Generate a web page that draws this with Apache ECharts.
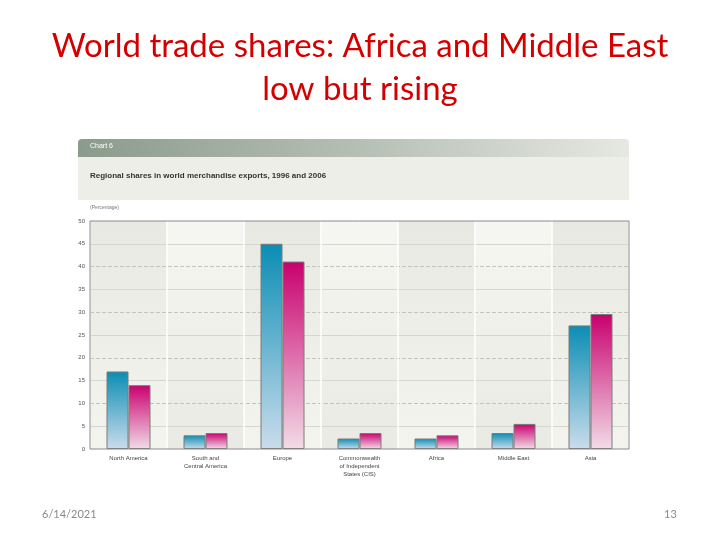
<!DOCTYPE html>
<html><head><meta charset="utf-8">
<script src="https://cdn.jsdelivr.net/npm/echarts@6/dist/echarts.min.js"></script>
<style>html,body{margin:0;padding:0;background:#fff}#c{width:720px;height:540px}</style>
</head><body><div id="c"></div>
<script>
const categories = ['North America', 'South and\nCentral America', 'Europe', 'Commonwealth\nof Independent\nStates (CIS)', 'Africa', 'Middle East', 'Asia'];
const exports1996 = [17.0, 3.0, 45.0, 2.3, 2.3, 3.5, 27.1];
const exports2006 = [14.0, 3.5, 41.1, 3.5, 3.0, 5.5, 29.6];
const yTicks = [0, 5, 10, 15, 20, 25, 30, 35, 40, 45, 50];

const chart = echarts.init(document.getElementById('c'), null, {renderer: 'canvas'});
const grad = (top, bottom) => new echarts.graphic.LinearGradient(0, 0, 0, 1, [{offset: 0, color: top}, {offset: 1, color: bottom}]);

chart.setOption({
  animation: false,
  backgroundColor: '#ffffff',
  textStyle: {fontFamily: 'Liberation Sans'},
  graphic: [
    {type: 'text', x: 360, y: 25, style: {text: 'World trade shares: Africa and Middle East\nlow but rising', fill: '#d40000', font: '33px Lato', lineHeight: 43, align: 'center'}},
    {type: 'rect', shape: {x: 78, y: 139, width: 551, height: 18, r: [4, 4, 0, 0]}, style: {fill: new echarts.graphic.LinearGradient(0, 0, 1, 0, [{offset: 0, color: '#8b9b8b'}, {offset: 0.5, color: '#b5beb2'}, {offset: 1, color: '#e6e8e2'}])}},
    {type: 'text', x: 90, y: 143, style: {text: 'Chart 6', fill: '#ffffff', font: '7px Liberation Sans'}},
    {type: 'rect', shape: {x: 78, y: 157, width: 551, height: 43}, style: {fill: '#eeeee9'}},
    {type: 'text', x: 90, y: 172, style: {text: 'Regional shares in world merchandise exports, 1996 and 2006', fill: '#333333', font: 'bold 8px Liberation Sans'}},
    {type: 'text', x: 90, y: 205, style: {text: '(Percentage)', fill: '#777777', font: '5px Liberation Sans'}},
    {type: 'text', x: 42, y: 509, style: {text: '6/14/2021', fill: '#8a8a8a', font: '11px Lato'}},
    {type: 'text', x: 664, y: 509, style: {text: '13', fill: '#8a8a8a', font: '11px Lato'}}
  ],
  grid: {left: 90, right: 91, top: 221, bottom: 91, show: true, borderColor: '#8a8a8a', borderWidth: 1, backgroundColor: 'transparent', z: 3},
  xAxis: {
    type: 'category', data: categories,
    axisLine: {show: false}, axisTick: {show: false},
    splitLine: {show: true, lineStyle: {color: '#ffffff', width: 1.5}},
    axisLabel: {fontSize: 6, color: '#444444', lineHeight: 8, margin: 5, interval: 0}
  },
  yAxis: [
    {type: 'value', min: yTicks[0], max: yTicks[yTicks.length - 1], interval: 5,
     axisLine: {show: false}, axisTick: {show: false},
     axisLabel: {fontSize: 6, color: '#555555', margin: 5},
     splitLine: {show: true, lineStyle: {color: ['transparent', '#d6d6d0'], width: 1}}},
    {type: 'value', min: yTicks[0], max: yTicks[yTicks.length - 1], interval: 10, position: 'left',
     axisLine: {show: false}, axisTick: {show: false}, axisLabel: {show: false},
     splitLine: {show: true, lineStyle: {color: ['transparent', '#c4c4bd', '#c4c4bd', '#c4c4bd', '#c4c4bd', 'transparent'], type: [4, 2], width: 1}}}
  ],
  series: [
    {type: 'custom', z: -1, silent: true, data: categories.map((c, i) => [i]),
     encode: {x: 0},
     renderItem: function (params, api) {
       const idx = api.value(0);
       const bw = api.size([1, 0])[0];
       const p0 = api.coord([idx, yTicks[0]]);
       const p1 = api.coord([idx, yTicks[yTicks.length - 1]]);
       const dark = idx % 2 === 0;
       return {type: 'rect',
         shape: {x: p0[0] - bw / 2, y: p1[1], width: bw, height: p0[1] - p1[1]},
         style: {fill: dark ? grad('#e9e9e3', '#f4f4ef') : grad('#f6f6f2', '#eaeae4')}};
     }},
    {name: '1996', type: 'bar', data: exports1996, barWidth: 22, barGap: '0%',
     itemStyle: {color: grad('#0a8db4', '#cbdcec'), borderColor: '#7a7a7a', borderWidth: 1}},
    {name: '2006', type: 'bar', data: exports2006, barWidth: 22, barGap: '0%',
     itemStyle: {color: grad('#c8006e', '#f2dce7'), borderColor: '#7a7a7a', borderWidth: 1}}
  ]
});
</script></body></html>
